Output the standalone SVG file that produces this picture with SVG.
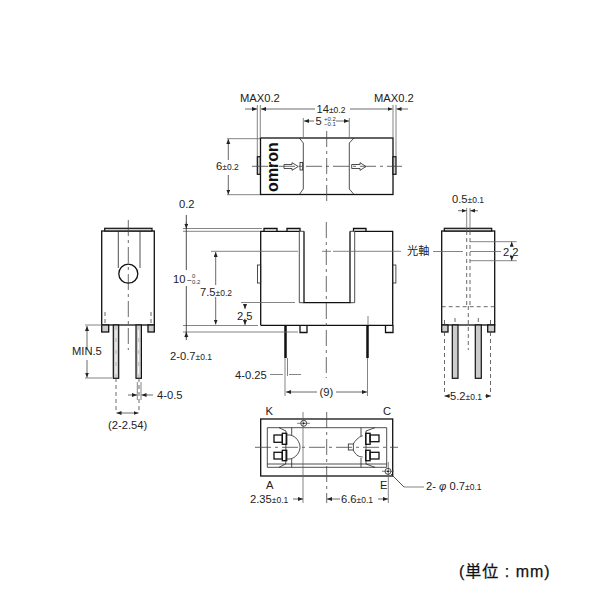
<svg xmlns="http://www.w3.org/2000/svg" width="600" height="600" viewBox="0 0 600 600">
<style>
.o{fill:none;stroke:#111;stroke-width:1.3}
.t{fill:none;stroke:#222;stroke-width:.8}
.d{fill:none;stroke:#666;stroke-width:.8}
.c{fill:none;stroke:#444;stroke-width:.8;stroke-dasharray:16 4 3 4}
.h{fill:none;stroke:#444;stroke-width:.8;stroke-dasharray:4 3}
.w{fill:none;stroke:#fff;stroke-width:1;stroke-dasharray:8 4}
.a{fill:none;stroke:#444;stroke-width:.8;marker-end:url(#e)}
.g{fill:#ccc;stroke:#111;stroke-width:1.2}
text{font-family:"Liberation Sans","Noto Sans CJK JP",sans-serif;font-size:11.2px;fill:#222}
.s{font-size:8.5px}
.x{font-size:6px;fill:#333}
</style>
<defs>
<marker id="e" markerWidth="6" markerHeight="6" refX="5" refY="2" orient="auto" markerUnits="userSpaceOnUse"><path d="M0 0L5 2L0 4z" fill="#222"/></marker>
</defs>

<g id="top-view">
<rect class="o" x="260.500" y="138" width="132.500" height="56.500"/>
<path class="t" d="M299.300 138L303.300 143V189L299.300 194.500M354 138L349.300 143V189L354 194.500"/>
<rect class="g" x="257.300" y="156.700" width="3" height="17.600"/>
<rect class="g" x="393" y="156.700" width="3" height="17.600"/>
<rect class="t" x="300" y="162.500" width="2.700" height="7.500" fill="#fff"/>
<path class="t" d="M284 164.500H292V162.700L298.300 166.500L292 170.300V168.500H284z"/>
<path class="t" d="M351.700 164.500H360V162.700L366 166.500L360 170.300V168.500H351.700z"/>
<text transform="translate(278,167) rotate(-90)" text-anchor="middle" style="font-size:16px;font-weight:bold;fill:#111">omron</text>
<path class="c" d="M252 166.300H402"/>
<path class="c" d="M326.700 131V202"/>
<path class="d" d="M227 138.700H260M227 194.700H260M260.300 105V138M257.300 105V156M393 105V138M396 105V156M303.300 118V138M349.300 118V138"/>
<path class="a" d="M228.300 160V139"/>
<path class="a" d="M228.300 175V194.500"/>
<path class="a" d="M315 109H261"/>
<path class="a" d="M350 109H392.500"/>
<path class="a" d="M245 109H257"/>
<path class="a" d="M408 109H396.500"/>
<path class="a" d="M314 121H304"/>
<path class="a" d="M336 121H349"/>
<text x="240" y="102">MAX0.2</text>
<text x="374" y="102">MAX0.2</text>
<text x="316.500" y="112.500">14<tspan class="s">±0.2</tspan></text>
<text x="315.500" y="125">5</text>
<text x="324" y="120.500" class="x">+0.2</text>
<text x="324" y="126" class="x">−0.1</text>
<text x="216" y="170">6<tspan class="s">±0.2</tspan></text>
</g>

<g id="front-view">
<path class="o" d="M260.700 325.300V231.300H299.300M304 231.300V302.700H350V231.300M354.700 231.300H392.700V325.300H260.700"/>
<path class="t" d="M299.300 231.300V302.700H304M350 302.700H354.700V231.300M299.300 231.300H304M350 231.300H354.700"/>
<path class="o" d="M264 231.300V228.500H277V231.300M287 231.300V228.500H300V231.300M353.500 231.300V228.500H366V231.300"/>
<rect class="t" x="257.500" y="265" width="3.200" height="18" fill="#fff"/>
<rect class="t" x="392.700" y="265" width="3.200" height="18" fill="#fff"/>
<path class="o" d="M300 325.300V332.500H307V325.300M385.500 325.300V332.500H393V325.300"/>
<path stroke="#111" stroke-width="2.500" fill="none" d="M285.500 325.300V358M367.500 325.300V358"/>
<path class="c" d="M326.300 222V378"/>
<path class="d" d="M211 251.300H298M333 251.300H401M322 251.300H331M183 228.500H262M183 231.300H260M183 325.500H258M183 332H298M241 302.500H295M368 316V325M285 358V396M287.500 358V376M367.500 358V396"/>
<path class="d" d="M186.300 215V270M186.300 286V340" style="stroke:#222"/>
<path class="a" d="M186.300 222V228.500"/>
<path class="a" d="M186.300 338V332"/>
<path class="a" d="M215.700 285V252"/>
<path class="a" d="M215.700 297V324.500"/>
<path class="a" d="M245 304V309"/>
<path class="a" d="M245 322V325"/>
<path class="d" d="M270 374.500H283M289 374.500H301"/>
<path class="a" d="M317 392H286"/>
<path class="a" d="M336 392H367"/>
<text x="179" y="208">0.2</text>
<text x="173" y="283">10</text>
<text x="187" y="283" class="s">−</text>
<text x="192" y="278" class="x">0</text>
<text x="192" y="284" class="x">0.2</text>
<text x="200" y="296">7.5<tspan class="s">±0.2</tspan></text>
<text x="237" y="320">2.5</text>
<text x="170" y="360">2-0.7<tspan class="s">±0.1</tspan></text>
<text x="235" y="379">4-0.25</text>
<text x="319.500" y="396">(9)</text>
<text x="407" y="255">光軸</text>
</g>

<g id="left-view">
<rect class="o" x="101.700" y="231" width="52.600" height="94"/>
<rect class="g" x="104.700" y="228.300" width="47.300" height="2.700"/>
<path class="c" d="M128.300 220V350"/>
<path class="t" d="M118.300 231V268M140 231V268"/>
<circle class="o" cx="128.300" cy="273.700" r="9.500" fill="#fff"/>
<rect class="o" x="101.700" y="325" width="7" height="7" style="fill:#ccc"/>
<rect class="o" x="148" y="325" width="6.300" height="7" style="fill:#ccc"/>
<rect class="g" x="113.300" y="325" width="5.400" height="53.300"/>
<rect class="g" x="136" y="325" width="5.400" height="53.300"/>
<path class="w" d="M116 330V376M138.700 330V376"/>
<path class="h" d="M116 378V410M139 378V410M105 312V325M151 312V325"/>
<path class="d" d="M85 325H102M85 378H112M137.300 382V400M141 382V400"/>
<path class="a" d="M87 350V326"/>
<path class="a" d="M87 360V377.500"/>
<path class="a" d="M127 413H116.500"/>
<path class="a" d="M127 413H138.500"/>
<path class="a" d="M128 395H137"/>
<path class="a" d="M153 395H141.500"/>
<text x="72" y="355">MIN.5</text>
<text x="157" y="399">4-0.5</text>
<text x="108" y="429">(2-2.54)</text>
</g>

<g id="right-view">
<rect class="o" x="441.700" y="231" width="53" height="94"/>
<rect class="g" x="444.300" y="228.300" width="47.400" height="2.700"/>
<path class="h" d="M441.700 306.700H494.700M466.700 231V306.700M470 231V306.700"/>
<rect class="o" x="441.700" y="325" width="6.300" height="7" style="fill:#ccc"/>
<rect class="o" x="487.700" y="325" width="7" height="7" style="fill:#ccc"/>
<rect class="g" x="452.300" y="325" width="5.700" height="53.300"/>
<rect class="g" x="475.300" y="325" width="6" height="53.300"/>
<path class="h" d="M468.300 306V350M455 318V325M478.300 318V325M444.500 320V325M444.500 332V393M490.500 320V325M490.500 332V393"/>
<path class="d" d="M466.700 208V231M470 208V231M433 251.500H463M470 251.500H501M470 241.700H516.700M470 260.700H516.700"/>
<path class="a" d="M458 210.700H466.500"/>
<path class="a" d="M478 210.700H470.200"/>
<path class="a" d="M511.700 246V241.700"/>
<path class="a" d="M511.700 257V260.700"/>
<path class="a" d="M450 396H444.500"/>
<path class="a" d="M485 396H491"/>
<text x="452" y="203">0.5<tspan class="s">±0.1</tspan></text>
<text x="503" y="255.500">2.2</text>
<text x="450" y="400">5.2<tspan class="s">±0.1</tspan></text>
</g>

<g id="bottom-view">
<rect class="o" x="260.700" y="419" width="132" height="57"/>
<path class="t" d="M267.300 427.700H386.700V467.300H267.300zM279 427.700L286 431L285.700 464L279 467.300M375 427.700L366 431L366 464L375 467.300M267.300 464H386.700M291.700 427.700V435M291.700 459V467.300M361 427.700V436M361 458V467.300"/>
<rect class="o" x="274" y="435" width="8.300" height="7.300"/>
<rect class="o" x="274" y="452.300" width="8.300" height="6.700"/>
<rect class="o" x="282.300" y="433.300" width="4.400" height="11"/>
<rect class="o" x="282.300" y="450.300" width="4.400" height="10.400"/>
<rect class="o" x="370" y="435" width="9" height="6.700"/>
<rect class="o" x="370" y="452.300" width="9" height="6.700"/>
<rect class="o" x="365.700" y="433.300" width="4.400" height="11"/>
<rect class="o" x="365.700" y="450.300" width="4.400" height="10.400"/>
<path class="t" d="M290 435C296 436 300 442 300 447.300C300 452 296 458 290 459M286.700 435H290M286.700 459H290"/>
<path class="t" d="M362.700 435.700C358 437 355 441 353.300 444M353.300 450C355 454 358 457 362.700 457"/>
<rect class="t" x="348.300" y="444" width="5" height="6"/>
<path class="c" d="M255 447.300H398"/>
<path class="c" d="M326.700 412V503"/>
<path class="d" d="M303 412V503M388.300 462V503"/>
<path class="d" d="M297 423.300H310M382 471.300H394"/>
<circle class="t" cx="303.700" cy="423.300" r="3" fill="#fff"/><circle cx="303.700" cy="423.300" r=".9" fill="#111"/>
<circle class="t" cx="388" cy="471.300" r="3" fill="#fff"/><circle cx="388" cy="471.300" r=".9" fill="#111"/>
<path class="a" d="M293 499H303"/>
<path class="a" d="M340 499H327"/>
<path class="a" d="M378 499H388"/>
<path class="t" d="M391 474L404 487"/>
<path class="d" d="M404 487H424"/>
<text x="265.500" y="415">K</text>
<text x="383" y="415">C</text>
<text x="266" y="489">A</text>
<text x="380" y="489">E</text>
<text x="250" y="503">2.35<tspan class="s">±0.1</tspan></text>
<text x="341" y="503">6.6<tspan class="s">±0.1</tspan></text>
<text x="426" y="490">2- <tspan font-style="italic">φ</tspan> 0.7<tspan class="s">±0.1</tspan></text>
</g>

<text x="459" y="577" style="font-size:16px;letter-spacing:1px;fill:#111;stroke:#111;stroke-width:.25">(単位 : mm)</text>
</svg>
